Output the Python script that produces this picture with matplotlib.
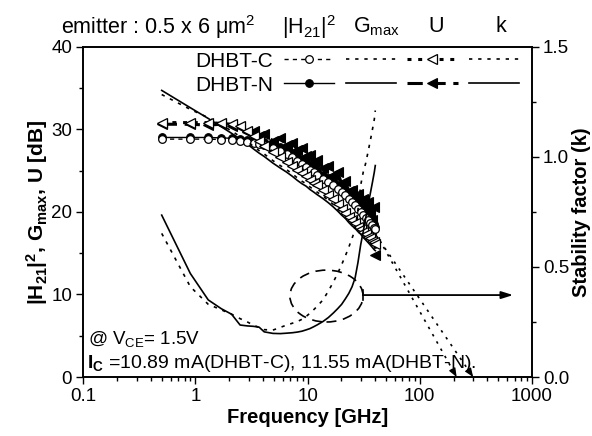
import numpy as np
import matplotlib
matplotlib.use("Agg")
import matplotlib.pyplot as plt
from matplotlib.patches import Ellipse
from matplotlib.legend_handler import HandlerTuple
from matplotlib.ticker import MultipleLocator, LogLocator, NullFormatter, FixedLocator, FixedFormatter

plt.rcParams['font.family'] = ['Liberation Sans', 'DejaVu Sans']
plt.rcParams['mathtext.fontset'] = 'custom'
plt.rcParams['mathtext.rm'] = 'Liberation Sans'
plt.rcParams['mathtext.it'] = 'Liberation Sans:italic'
plt.rcParams['mathtext.bf'] = 'Liberation Sans:bold'

# ---------------- data ----------------
freq = [0.5, 0.9, 1.3, 1.7, 2.1, 2.5, 2.9, 3.3, 3.7, 4.1, 4.9, 5.7, 6.5, 7.3, 8.1,
        8.9, 9.7, 10.5, 11.3, 12.1, 13.7, 15.3, 16.9, 18.5, 20.1, 21.7, 23.3, 24.9,
        26.5, 28.1, 29.7, 31.3, 32.9, 34.5, 36.1, 37.7, 39.3, 40.1]

h21_c = [34.2, 32.4, 31.4, 30.5, 29.8, 29.1, 28.5, 27.9, 27.4, 27.0, 26.2, 25.6, 25.1,
         24.6, 24.1, 23.7, 23.4, 23.0, 22.7, 22.4, 21.9, 21.4, 20.9, 20.4, 19.9, 19.5,
         19.0, 18.6, 18.3, 17.9, 17.6, 17.2, 16.9, 16.6, 16.3, 16.0, 15.7, 15.6]
h21_n = [34.7, 32.6, 31.3, 30.3, 29.5, 28.8, 28.2, 27.6, 27.1, 26.7, 25.9, 25.3, 24.8,
         24.3, 23.8, 23.4, 23.1, 22.7, 22.4, 22.1, 21.6, 21.1, 20.6, 20.1, 19.6, 19.2,
         18.7, 18.3, 18.0, 17.6, 17.3, 16.9, 16.6, 16.3, 16.0, 15.7, 15.4, 15.3]
gmax_c = [28.8, 28.8, 28.8, 28.75, 28.7, 28.6, 28.5, 28.35, 28.2, 28.05, 27.75, 27.4, 27.0,
          26.6, 26.2, 25.8, 25.45, 25.1, 24.8, 24.5, 24.0, 23.6, 23.2, 22.8, 22.4, 22.0,
          21.6, 21.2, 20.8, 20.4, 20.0, 19.6, 19.3, 19.0, 18.7, 18.4, 18.1, 17.9]
gmax_n = [29.0, 29.0, 29.0, 28.95, 28.9, 28.85, 28.75, 28.65, 28.5, 28.4, 28.1, 27.8, 27.5,
          27.1, 26.7, 26.3, 26.0, 25.6, 25.3, 25.0, 24.5, 24.1, 23.7, 23.3, 22.9, 22.5,
          22.1, 21.7, 21.3, 20.9, 20.5, 20.1, 19.8, 19.5, 19.2, 18.9, 18.5, 18.2]
u_c = [30.8, 30.8, 30.8, 30.7, 30.6, 30.4, 29.8, 29.2, 28.6, 28.0, 27.2, 26.6, 26.0,
       25.5, 25.1, 24.7, 24.3, 23.9, 23.5, 23.2, 22.6, 22.0, 21.5, 20.9, 20.3, 19.8,
       19.4, 19.0, 18.6, 18.2, 17.9, 17.6, 17.3, 17.0, 16.8, 16.5, 16.3, 16.1]
u_n = [30.6, 30.6, 30.5, 30.6, 30.4, 30.3, 29.7, 29.8, 29.2, 29.4, 28.6, 28.9, 28.1,
       28.3, 27.5, 27.7, 26.8, 26.9, 26.0, 26.3, 25.3, 25.6, 24.5, 24.8, 23.4, 23.7,
       22.5, 22.6, 21.6, 22.1, 21.0, 21.5, 20.4, 21.2, 20.0, 19.0, 20.6, 14.8]
k_c = [0.652, 0.41, 0.33, 0.305, 0.285, 0.265, 0.25, 0.235, 0.225, 0.215, 0.213, 0.225,
       0.236, 0.244, 0.252, 0.262, 0.275, 0.29, 0.305, 0.32, 0.35, 0.39, 0.43, 0.47,
       0.51, 0.55, 0.59, 0.63, 0.67, 0.76, 0.87, 0.93, 0.97, 1.02, 1.07, 1.12, 1.17, 1.21]
k_n = [0.735, 0.47, 0.35, 0.31, 0.285, 0.236, 0.232, 0.23, 0.226, 0.205, 0.198, 0.197,
       0.199, 0.201, 0.204, 0.208, 0.214, 0.22, 0.228, 0.236, 0.252, 0.27, 0.29, 0.31,
       0.33, 0.355, 0.38, 0.41, 0.45, 0.52, 0.6, 0.66, 0.72, 0.78, 0.83, 0.88, 0.93, 0.96]

# -20 dB/dec style extrapolations (fT and fmax)
ext_ft_f = [40.1, 213.0]
ext_ft_db = [17.5, 0.0]
ext_fmax_f = [40.1, 299.0]
ext_fmax_db = [17.3, 0.0]

xticks = [0.1, 1, 10, 100, 1000]
xticklabels = ['0.1', '1', '10', '100', '1000']
ylticks = [0, 10, 20, 30, 40]
yrticks = [0.0, 0.5, 1.0, 1.5]
yrticklabels = ['0.0', '0.5', '1.0', '1.5']

# ---------------- figure ----------------
fig = plt.figure(figsize=(5.92, 4.36), dpi=100)
ax = fig.add_axes([0.1407, 0.1353, 0.7579, 0.7578])
ax2 = ax.twinx()

FS = 13.5
LFS = 14.5

ax.set_xscale('log')
ax.set_xlim(0.1, 1000)
ax.set_ylim(0, 40)
ax2.set_ylim(0, 1.5)

# N curves
l_gn, = ax.plot(freq, gmax_n, '-', color='k', lw=1.0, marker='o', ms=5.5,
                mfc='k', mec='k', mew=0.8, zorder=3)
l_hn, = ax.plot(freq, h21_n, '-', color='k', lw=1.2, zorder=3)
l_un, = ax.plot(freq, u_n, color='k', lw=2.2, dashes=(5, 2.5), marker='<', ms=6.5,
                mfc='k', mec='k', mew=0.8, zorder=3)
# C curves
l_gc, = ax.plot(freq, gmax_c, color='k', lw=1.0, dashes=(3, 3), marker='o', ms=5.5,
                mfc='white', mec='k', mew=0.9, zorder=4)
l_hc, = ax.plot(freq, h21_c, color='k', lw=1.2, dashes=(2, 3.5), zorder=4)
l_uc, = ax.plot(freq, u_c, color='k', lw=2.2, dashes=(1.3, 2.2), marker='<', ms=6.5,
                mfc='white', mec='k', mew=0.9, zorder=4)

# extrapolation lines
ax.plot(ext_ft_f, ext_ft_db, color='k', lw=1.2, dashes=(1.5, 3.5))
ax.plot(ext_fmax_f, ext_fmax_db, color='k', lw=1.2, dashes=(1.5, 3.5))
for ef, ed in ((ext_ft_f, ext_ft_db), (ext_fmax_f, ext_fmax_db)):
    lf = np.log10(ef)
    fx = 10 ** (lf[1] - 0.04 * (lf[1] - lf[0]))
    fy = ed[1] + 0.04 * (ed[0] - ed[1])
    ax.annotate('', xy=(ef[1], ed[1]), xytext=(fx, fy),
                arrowprops=dict(arrowstyle='-|>,head_length=0.5,head_width=0.2',
                                color='k', lw=1.0, shrinkA=0, shrinkB=0))

# stability factor
l_kc, = ax2.plot(freq, k_c, color='k', lw=1.2, dashes=(2, 3.5))
l_kn, = ax2.plot(freq, k_n, '-', color='k', lw=1.2)

# ellipse + arrow
ell = Ellipse((0.542, 0.245), 0.163, 0.157, transform=ax.transAxes, fill=False,
              ec='k', lw=1.2, ls=(0, (6, 4)))
ax.add_patch(ell)
ax.annotate('', xy=(0.958, 0.248), xytext=(0.623, 0.248), xycoords='axes fraction',
            arrowprops=dict(arrowstyle='-|>,head_length=0.7,head_width=0.22',
                            color='k', lw=1.3, shrinkA=0, shrinkB=0))
ax.plot([0.623, 0.623], [0.232, 0.264], transform=ax.transAxes, color='k', lw=1.2)

# ticks
ax.xaxis.set_major_locator(FixedLocator(xticks))
ax.xaxis.set_major_formatter(FixedFormatter(xticklabels))
ax.xaxis.set_minor_locator(LogLocator(base=10, subs=np.arange(2, 10), numticks=20))
ax.xaxis.set_minor_formatter(NullFormatter())
ax.yaxis.set_major_locator(FixedLocator(ylticks))
ax.yaxis.set_minor_locator(MultipleLocator(5))
ax2.yaxis.set_major_locator(FixedLocator(yrticks))
ax2.yaxis.set_major_formatter(FixedFormatter(yrticklabels))
ax2.yaxis.set_minor_locator(MultipleLocator(0.25))
for a in (ax, ax2):
    a.tick_params(which='major', direction='out', length=5, width=1.0, labelsize=FS, pad=3)
    a.tick_params(which='minor', direction='out', length=3, width=1.0)
    for s in a.spines.values():
        s.set_linewidth(1.2)
ax.tick_params(top=False, which='both')

ax.set_xlabel('Frequency [GHz]', fontsize=LFS, fontweight='bold', labelpad=2)
ax.set_ylabel(r'|H$_{\mathbf{21}}$|$^{\mathbf{2}}$, G$_{\mathbf{max}}$, U [dB]',
              fontsize=15, fontweight='bold', labelpad=1)
ax2.set_ylabel('Stability factor (k)', fontsize=LFS, fontweight='bold', labelpad=2)

# texts inside
ax.text(0.01, 0.115, r'@ V$_{\mathregular{CE}}$= 1.5V', transform=ax.transAxes,
        fontsize=FS, va='center', ha='left')
ax.text(0.008, 0.04, r'$\mathbf{I_C}$ =10.89 mA(DHBT-C), 11.55 mA(DHBT-N).',
        transform=ax.transAxes, fontsize=14, va='center', ha='left')

# header
hy = 1 - 27 / 436
HFS = 15.5
fig.text(61 / 592, hy, r'emitter : 0.5 x 6 $\mathregular{\mu}$m$^{\mathregular{2}}$',
         fontsize=HFS, va='center', ha='left')
fig.text(309 / 592, hy, r'|H$_{\mathregular{21}}$|$^{\mathregular{2}}$', fontsize=HFS,
         va='center', ha='center')
fig.text(377 / 592, hy, r'G$_{\mathregular{max}}$', fontsize=HFS, va='center', ha='center')
fig.text(436 / 592, hy, 'U', fontsize=HFS, va='center', ha='center')
fig.text(501 / 592, hy, 'k', fontsize=HFS, va='center', ha='center')

# legend
leg = ax.legend([(l_gc, l_hc, l_uc, l_kc), (l_gn, l_hn, l_un, l_kn)],
                ['DHBT-C', 'DHBT-N'],
                handler_map={tuple: HandlerTuple(ndivide=None, pad=0.55)},
                markerfirst=False, numpoints=1, handlelength=11.3, handletextpad=0.5,
                labelspacing=0.25, frameon=False, loc='upper left',
                bbox_to_anchor=(0.250, 0.985), borderpad=0, borderaxespad=0,
                prop={'size': 15})
leg.set_zorder(10)

fig.savefig('out.png', dpi=100)
